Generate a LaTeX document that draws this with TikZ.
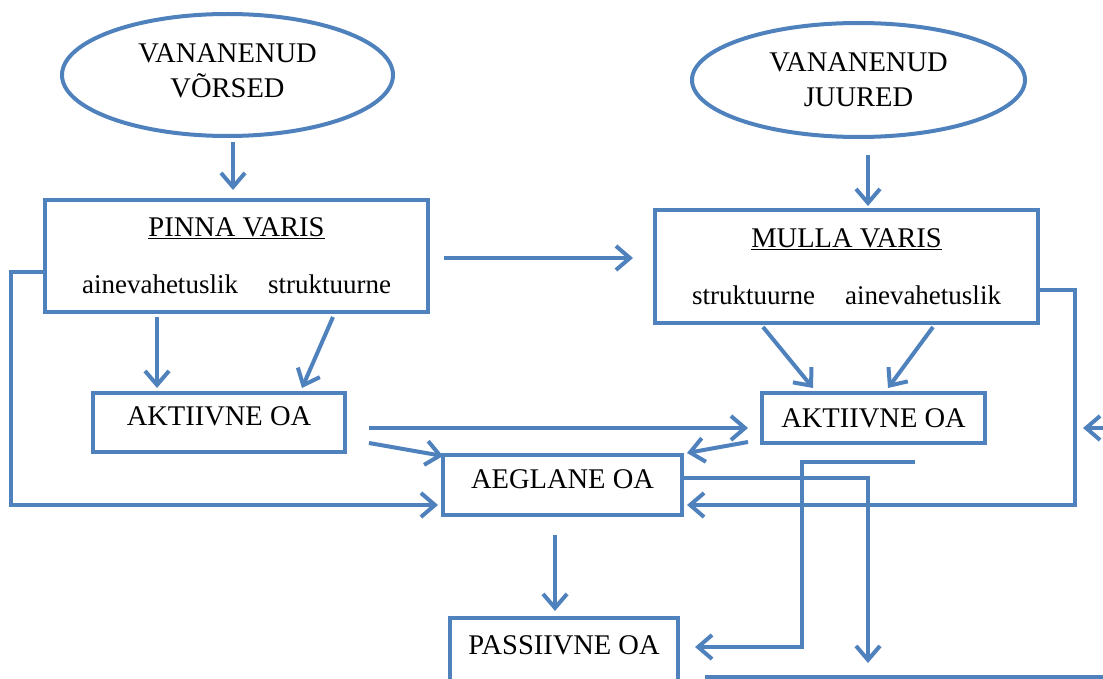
\documentclass[tikz,border=0pt]{standalone}
\usepackage{fontspec}
\setmainfont{Liberation Serif}
\usetikzlibrary{arrows.meta,positioning,calc,shapes.geometric}
\definecolor{oablue}{HTML}{4F81BD}
\newcommand{\subtext}{\fontsize{27}{35}\selectfont}

\begin{document}
\begin{tikzpicture}[x=1pt,y=-1pt,line width=4pt,>={Straight Barb[length=14pt,width=24pt]},
  every node/.style={font=\fontsize{28.5}{35}\selectfont},
  oval/.style={draw=oablue,ellipse,inner sep=0pt,align=center},
  varis/.style={draw=oablue,inner sep=0pt,align=center},
  oa/.style={draw=oablue,inner sep=0pt,text depth=12pt},
  link/.style={draw=oablue,->}]
\useasboundingbox (0,0) rectangle (1103,679);
\clip (0,0) rectangle (1103,679);

\node[oval,minimum width=331pt,minimum height=122pt,text depth=8pt] (vorsed) at (227.5,75) {VANANENUD\\VÕRSED};
\node[oval,minimum width=333pt,minimum height=114pt] (juured) at (858.5,80) {VANANENUD\\JUURED};
\node[varis,minimum width=383pt,minimum height=112pt] (pinna) at (236.5,256) {\underline{PINNA VARIS}\\[22pt]{\subtext ainevahetuslik\hspace{30pt}struktuurne}};
\node[varis,minimum width=383pt,minimum height=113pt] (mulla) at (846.5,266.5) {\underline{MULLA VARIS}\\[22pt]{\subtext struktuurne\hspace{30pt}ainevahetuslik}};
\node[oa,minimum width=252pt,minimum height=59pt] (aktiivL) at (219,422.5) {AKTIIVNE OA};
\node[oa,minimum width=223pt,minimum height=50pt,text depth=0pt] (aktiivR) at (873.5,418) {AKTIIVNE OA};
\node[oa,minimum width=239pt,minimum height=60pt] (aeglane) at (562.5,485) {AEGLANE OA};
\node[oa,minimum width=228pt,minimum height=66pt] (passiiv) at (564,651) {PASSIIVNE OA};

% free ends at the right and bottom
\coordinate (sink) at (868,663);
\coordinate (edgeR) at (1110,428);
\coordinate (inR) at (1083,428);
\coordinate (botL) at (705,677);
\coordinate (botR) at (1110,677);

\draw[link] ($(vorsed.south)+(5.5,4)$) -- ($(pinna.north)+(-3.5,-8)$);
\draw[link] ($(juured.south)+(9.5,16)$) -- ($(mulla.north)+(21.5,-2)$);
\draw[link] ($(pinna.east)+(14,2)$) -- ($(mulla.west)+(-20,-8.5)$);
\draw[link] ($(pinna.south)+(-79.5,3)$) -- ($(aktiivL.north)+(-62,-3)$);
\draw[link] ($(pinna.south)+(96.5,3)$) -- ($(aktiivL.north)+(83,-3)$);
\draw[link] ($(mulla.south)+(-83.5,2)$) -- ($(aktiivR.north)+(-60.5,-3)$);
\draw[link] ($(mulla.south)+(86.5,2)$) -- ($(aktiivR.north)+(14.5,-3)$);
\draw[link] ($(aktiivL.east)+(22,5.5)$) -- ($(aktiivR.west)+(-12,10)$);
\draw[link] ($(aktiivL.east)+(22,20.5)$) -- ($(aeglane.north west)+(2,3)$);
\draw[link] ($(aktiivR.west)+(-12,24)$) -- ($(aeglane.north east)+(3,0)$);
\draw[link] ($(pinna.west)+(0,16)$) -- ++(-32,0) |- ($(aeglane.west)+(-3,20)$);
\draw[link] ($(mulla.east)+(0,23.5)$) -- ++(35,0) |- ($(aeglane.east)+(3,20)$);
\draw[link] ($(aeglane.south)+(-7.5,18)$) -- ($(passiiv.north)+(-9,-5)$);
\draw[link] ($(aeglane.east)+(0,-7)$) -| (sink);
\draw[link] ($(aktiivR.south)+(41.5,17)$) -- ++(-113,0) |- ($(passiiv.east)+(15,-4)$);
\draw[link] (edgeR) -- (inR);
\draw[draw=oablue] (botL) -- (botR);
\end{tikzpicture}
\end{document}
